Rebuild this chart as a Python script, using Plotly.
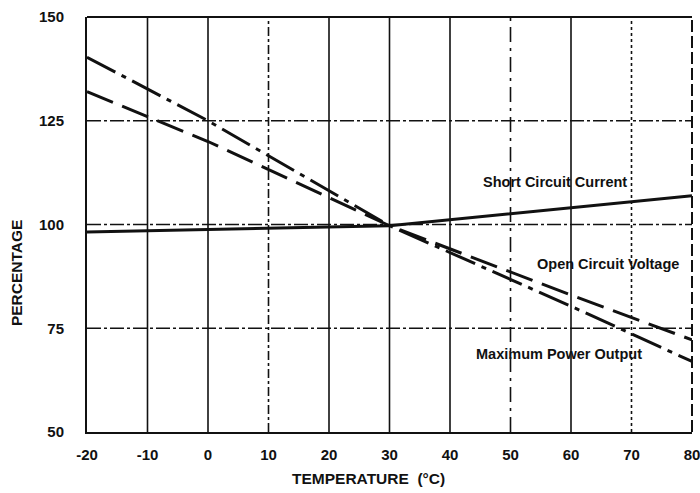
import plotly.graph_objects as go

# ---- data ----
temp_scc = [-20, 30, 80]
short_circuit_current = [98.2, 99.7, 106.9]

temp_ocv = [-20, 0, 30, 60, 80]
open_circuit_voltage = [132.0, 120.0, 99.7, 83.0, 72.2]

temp_mpo = [-20, 0, 30, 60, 80]
maximum_power_output = [140.3, 125.0, 99.7, 80.3, 67.0]

x_ticks = [-20, -10, 0, 10, 20, 30, 40, 50, 60, 70, 80]
x_tick_labels = ["-20", "-10", "0", "10", "20", "30", "40", "50", "60", "70", "80"]
y_ticks = [50, 75, 100, 125, 150]
y_tick_labels = ["50", "75", "100", "125", "150"]

INK = "#111111"
FONT = "Liberation Sans"

fig = go.Figure()
fig.add_trace(go.Scatter(x=temp_scc, y=short_circuit_current, mode="lines",
                         line=dict(color=INK, width=3), name="Short Circuit Current"))
fig.add_trace(go.Scatter(x=temp_ocv, y=open_circuit_voltage, mode="lines",
                         line=dict(color=INK, width=3, dash="28px,10px"), name="Open Circuit Voltage"))
fig.add_trace(go.Scatter(x=temp_mpo, y=maximum_power_output, mode="lines",
                         line=dict(color=INK, width=3, dash="32px,7px,5px,7px"), name="Maximum Power Output"))

# grid lines (scanned look: mixed styles)
v_styles = {-10: "solid", 0: "solid", 10: "dashdot", 20: "solid", 30: "solid",
            40: "solid", 50: "longdashdot", 60: "solid", 70: "dot"}
shapes = []
for xv, st in v_styles.items():
    shapes.append(dict(type="line", xref="x", yref="paper", x0=xv, x1=xv, y0=0, y1=1,
                       line=dict(color=INK, width=1.6, dash=st), layer="below"))
for yv in [75, 100, 125]:
    shapes.append(dict(type="line", xref="paper", yref="y", x0=0, x1=1, y0=yv, y1=yv,
                       line=dict(color=INK, width=1.4, dash="14px,3px,3px,3px"), layer="below"))
# right frame dashed
shapes.append(dict(type="line", xref="paper", yref="paper", x0=1, x1=1, y0=0, y1=1,
                   line=dict(color=INK, width=2, dash="12px,4px")))
# top frame
shapes.append(dict(type="line", xref="paper", yref="paper", x0=0, x1=1, y0=1, y1=1,
                   line=dict(color=INK, width=2)))

annotations = [
    dict(x=57.4, y=110.2, xref="x", yref="y", text="Short Circuit Current", showarrow=False,
         font=dict(size=14.5, family=FONT, color=INK, weight="bold")),
    dict(x=66.1, y=90.6, xref="x", yref="y", text="Open Circuit Voltage", showarrow=False,
         font=dict(size=14.5, family=FONT, color=INK, weight="bold")),
    dict(x=58.0, y=68.8, xref="x", yref="y", text="Maximum Power Output", showarrow=False,
         font=dict(size=14.5, family=FONT, color=INK, weight="bold")),
    dict(x=0.466, y=0, xref="paper", yref="paper", yshift=-46, yanchor="middle",
         text="TEMPERATURE  (°C)", showarrow=False,
         font=dict(size=15.5, family=FONT, color=INK, weight="bold")),
    dict(x=0, y=0.383, xref="paper", yref="paper", xshift=-71, xanchor="center",
         text="PERCENTAGE", textangle=-90, showarrow=False,
         font=dict(size=15.5, family=FONT, color=INK, weight="bold")),
]

fig.update_layout(
    width=700, height=493,
    margin=dict(l=87, r=8, t=17, b=61, autoexpand=False),
    paper_bgcolor="white", plot_bgcolor="white",
    showlegend=False,
    font=dict(family=FONT, color=INK, weight="bold"),
    shapes=shapes, annotations=annotations,
)
fig.update_xaxes(range=[-20, 80], tickvals=x_ticks, ticktext=x_tick_labels,
                 showgrid=False, zeroline=False, showline=True, linecolor=INK, linewidth=2,
                 mirror=False, ticks="", ticklabelstandoff=8, automargin=False,
                 ticklabeloverflow="allow",
                 tickfont=dict(size=15, family=FONT, color=INK, weight="bold"))
fig.update_yaxes(range=[50, 150], tickvals=y_ticks, ticktext=y_tick_labels,
                 showgrid=False, zeroline=False, showline=True, linecolor=INK, linewidth=2,
                 mirror=False, ticks="", ticklabelstandoff=18, automargin=False,
                 ticklabeloverflow="allow",
                 tickfont=dict(size=15, family=FONT, color=INK, weight="bold"))

# remove the default page margin so the 700x493 figure fills the window exactly
fig.write_html("out.html",
               config={"displayModeBar": False},
               post_script="document.body.style.margin='0';document.body.style.overflow='hidden';")
